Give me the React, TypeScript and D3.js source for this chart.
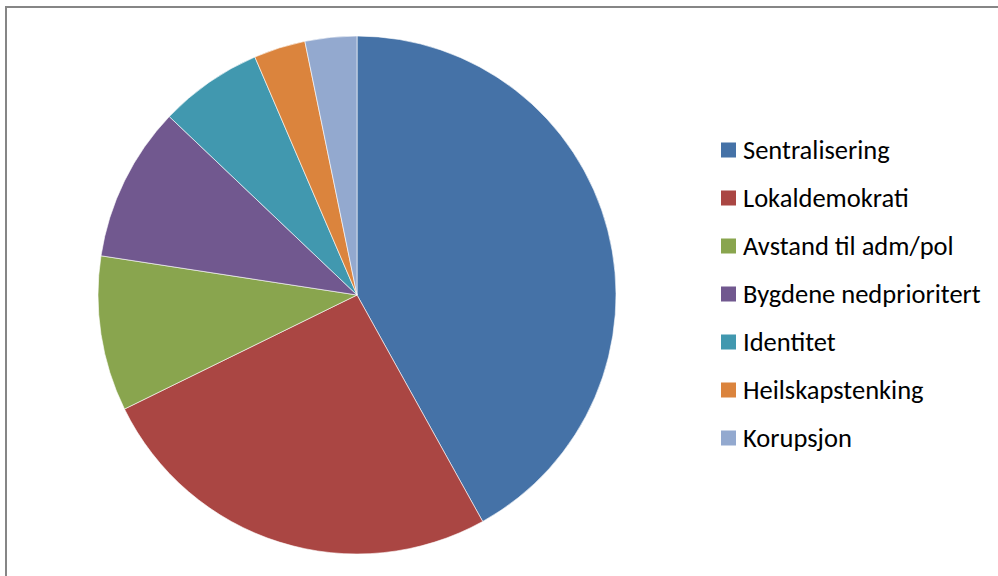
import React, { useMemo } from "react";
import * as d3 from "d3";

const categories = [
  "Sentralisering",
  "Lokaldemokrati",
  "Avstand til adm/pol",
  "Bygdene nedprioritert",
  "Identitet",
  "Heilskapstenking",
  "Korupsjon",
];
const values = [13, 8, 3, 3, 2, 1, 1];
const colors = ["#4572A7", "#AA4643", "#89A54E", "#71588F", "#4198AF", "#DB843D", "#93A9CF"];

const W = 998;
const H = 576;
const cx = 357;
const cy = 295;
const R = 259;

export default function App() {
  const arcs = useMemo(() => {
    const pie = d3.pie<number>().sort(null).value((d) => d);
    return pie(values);
  }, []);
  const arcGen = d3.arc<d3.PieArcDatum<number>>().innerRadius(0).outerRadius(R);
  const legendY = d3.scalePoint<string>().domain(categories).range([150, 438]);

  return (
    <svg
      width={W}
      height={H}
      style={{ position: "absolute", left: 0, top: 0, display: "block", background: "#fff" }}
      fontFamily="Carlito, 'Liberation Sans', Arial, sans-serif"
    >
      <rect x={6} y={7} width={1010} height={600} fill="#fff" stroke="#868686" strokeWidth={2} />
      <g transform={`translate(${cx},${cy})`}>
        {arcs.map((a, i) => (
          <path key={i} d={arcGen(a) || ""} fill={colors[i]} stroke="#fff" strokeWidth={0.6} />
        ))}
      </g>
      <g>
        {categories.map((c, i) => (
          <g key={c} transform={`translate(721,${legendY(c)})`}>
            <rect x={0} y={-7.5} width={15} height={15} fill={colors[i]} />
            <text x={22} y={8.5} fontSize={26.5} fill="#000">
              {c}
            </text>
          </g>
        ))}
      </g>
    </svg>
  );
}
